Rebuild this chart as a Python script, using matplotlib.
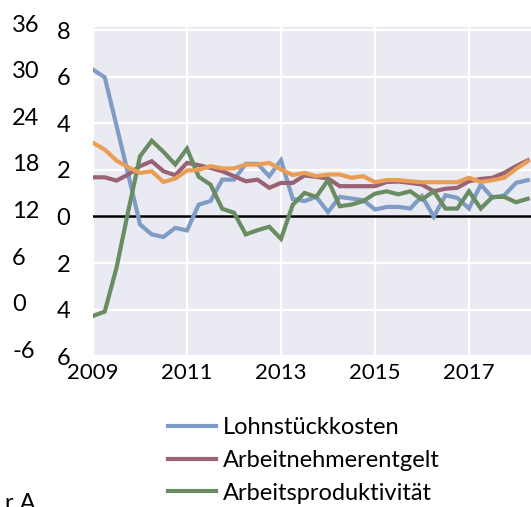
import numpy as np
import matplotlib
matplotlib.use("Agg")
import matplotlib.pyplot as plt
from matplotlib.transforms import blended_transform_factory, ScaledTranslation

plt.rcParams['font.family'] = ['Lato', 'DejaVu Sans']

start_year = 2009
lohnstueckkosten = [6.3, 5.97, 3.9, 1.8, -0.34, -0.77, -0.88, -0.49, -0.6, 0.51,
                    0.66, 1.58, 1.58, 2.26, 2.26, 1.73, 2.41, 0.75, 0.66, 0.84,
                    0.19, 0.84, 0.77, 0.7, 0.3, 0.41, 0.41, 0.34, 0.87, -0.01,
                    0.91, 0.8, 0.34, 1.37, 0.8, 0.91, 1.44, 1.56]
arbeitnehmerentgelt = [1.68, 1.68, 1.54, 1.8, 2.16, 2.37, 1.94, 1.77, 2.3, 2.2,
                       2.08, 1.94, 1.73, 1.51, 1.58, 1.23, 1.44, 1.44, 1.76, 1.7,
                       1.63, 1.3, 1.3, 1.3, 1.3, 1.48, 1.5, 1.44, 1.37, 1.08,
                       1.19, 1.23, 1.51, 1.61, 1.66, 1.87, 2.16, 2.41]
arbeitsproduktivitaet = [-4.27, -4.08, -2.2, 0.23, 2.58, 3.25, 2.77, 2.23, 2.91, 1.7,
                         1.37, 0.33, 0.16, -0.77, -0.59, -0.44, -0.96, 0.5, 1.01, 0.84,
                         1.56, 0.44, 0.51, 0.66, 0.98, 1.08, 0.95, 1.08, 0.73, 1.08,
                         0.34, 0.34, 1.08, 0.34, 0.84, 0.84, 0.61, 0.76]
vierte_reihe = [3.16, 2.87, 2.4, 2.11, 1.87, 1.94, 1.48, 1.63, 1.97, 2.0,
                2.16, 2.06, 2.06, 2.23, 2.23, 2.3, 2.01, 1.78, 1.87, 1.73,
                1.8, 1.8, 1.66, 1.73, 1.47, 1.56, 1.56, 1.51, 1.47, 1.47,
                1.47, 1.47, 1.66, 1.48, 1.56, 1.66, 2.04, 2.37]

x_ticks = [2009, 2011, 2013, 2015, 2017]
x_ticklabels = ['2009', '2011', '2013', '2015', '2017']
y_ticks = [8, 6, 4, 2, 0, -2, -4, -6]
y_ticklabels = ['8', '6', '4', '2', '0', '2', '4', '6']
outer_labels = ['36', '30', '24', '18', '12', '6', '0', '-6']

labels = ['Lohnstückkosten', 'Arbeitnehmerentgelt', 'Arbeitsproduktivität']
colors = ['#7f9cc6', '#9a6373', '#6a8c62', '#e99d55']

x = start_year + np.arange(len(lohnstueckkosten)) / 4.0

FS = 17
W, H = 531, 507
fig = plt.figure(figsize=(W / 100, H / 100), dpi=100)
left, right, top, bottom = 93, 531, 27, 357
ax = fig.add_axes([left / W, 1 - bottom / H, (right - left) / W, (bottom - top) / H])
ax.set_facecolor('#eaeaf2')
for s in ax.spines.values():
    s.set_visible(False)

lw = 3.0
hs = []
for series, c, lab in zip([lohnstueckkosten, arbeitnehmerentgelt, arbeitsproduktivitaet],
                          colors[:3], labels):
    h, = ax.plot(x, series, color=c, lw=lw, solid_joinstyle='miter', label=lab, zorder=3)
    hs.append(h)
ax.plot(x, vierte_reihe, color=colors[3], lw=lw, solid_joinstyle='miter', zorder=4)

ax.axhline(0, color='black', lw=1.8, zorder=2)

ax.set_xlim(2009, 2009 + (right - left) / 47.0)
ax.set_ylim(-6.03, 8.13)
ax.set_xticks(x_ticks)
ax.set_xticklabels(x_ticklabels)
ax.set_yticks(y_ticks)
ax.set_yticklabels(y_ticklabels)
ax.grid(True, color='white', lw=1.6, zorder=1)
ax.set_axisbelow(True)
ax.tick_params(axis='y', length=0, labelsize=FS, pad=16.5)
ax.tick_params(axis='x', length=0, labelsize=16, pad=4.5)

# outer (left) labels
tr = blended_transform_factory(fig.transFigure, ax.transData) + ScaledTranslation(0, 5 / 100, fig.dpi_scale_trans)
for v, t in zip(y_ticks, outer_labels):
    fig.text(12 / W, v, t, transform=tr, ha='left', va='center', fontsize=FS)

leg = fig.legend(handles=hs, labels=labels, loc='upper left',
                 bbox_to_anchor=(168 / W, 1 - 417 / H), frameon=False,
                 fontsize=FS, handlelength=2.05, handletextpad=0.28,
                 labelspacing=0.5, borderaxespad=0, borderpad=0)

# cropped text fragments at figure edges
fig.text(5 / W, 1 - 493 / H, 'r A', ha='left', va='top', fontsize=FS)
fig.text(183 / W, 1 - (-5) / H, 'g', ha='left', va='baseline', fontsize=FS)
fig.text(286 / W, 1 - (-5) / H, 'y', ha='left', va='baseline', fontsize=FS)

fig.savefig('out.png', dpi=100)
